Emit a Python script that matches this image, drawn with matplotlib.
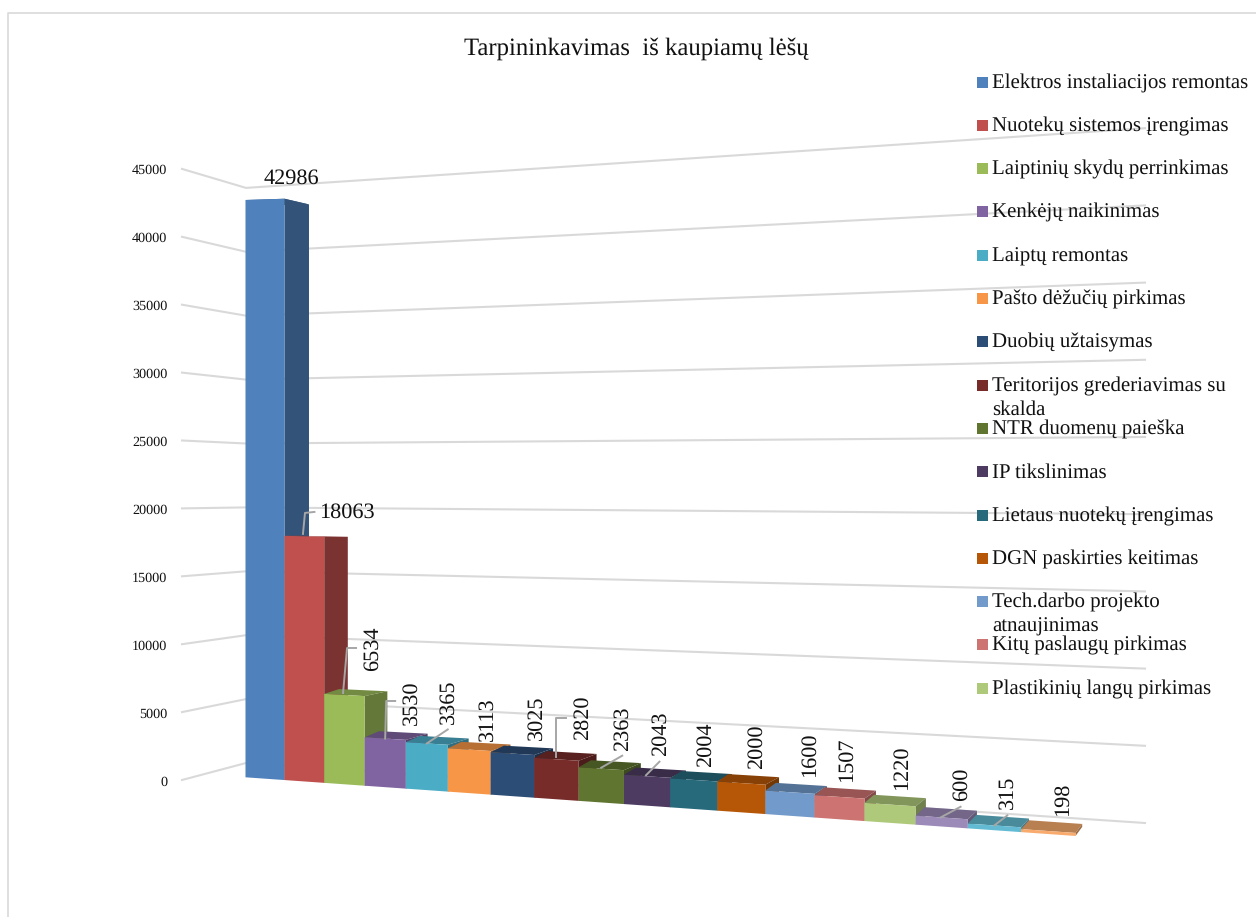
import matplotlib
matplotlib.use("Agg")
import matplotlib.pyplot as plt

plt.rcParams['font.family'] = ['Liberation Serif', 'DejaVu Serif']
plt.rcParams['text.hinting'] = 'none'

title = "Tarpininkavimas  iš kaupiamų lėšų"
values = [42986, 18063, 6534, 3530, 3365, 3113, 3025, 2820, 2363,
          2043, 2004, 2000, 1600, 1507, 1220, 600, 315, 198]
names = ["Elektros instaliacijos remontas", "Nuotekų sistemos įrengimas",
         "Laiptinių skydų perrinkimas", "Kenkėjų naikinimas", "Laiptų remontas",
         "Pašto dėžučių pirkimas", "Duobių užtaisymas",
         "Teritorijos grederiavimas su\nskalda", "NTR duomenų paieška",
         "IP tikslinimas", "Lietaus nuotekų įrengimas", "DGN paskirties keitimas",
         "Tech.darbo projekto\natnaujinimas", "Kitų paslaugų pirkimas",
         "Plastikinių langų pirkimas"]
colors = ["#4F81BD", "#C0504D", "#9BBB59", "#8064A2", "#4BACC6", "#F79646",
          "#2C4D75", "#772C2A", "#5F7530", "#4D3B62", "#276A7C", "#B65708",
          "#729ACA", "#CD7371", "#AFC97A", "#9C8AB8", "#62BBD2", "#F9AB6E"]
ticks = [0, 5000, 10000, 15000, 20000, 25000, 30000, 35000, 40000, 45000]

# label offset from the middle of each bar's top edge, pixels
label_off = [(26.6, -21), (42.7, -23.4), (27.7, -46), (25.8, -35.6), (21.2, -41.4), (17.9, -30.6),
             (23.7, -35.6), (25.7, -41.3), (21.8, -39.7), (13.6, -42.3), (11.8, -34.9), (15.7, -36.2),
             (19.7, -37.2), (7.6, -36.9), (11.5, -36.6), (19.5, -33.4), (12.8, -33.4), (14.8, -32)]
leaders = {1: [(-1.3, -2.4), (0.7, -23.4), (10.2, -24.4)], 2: [(-1.3, -2), (2.7, -47), (11.7, -47)],
           3: [(0, 0), (1, -37.6), (10, -37.6)], 4: [(0, 0), (21, -14)],
           7: [(0, -2), (0, -41), (10, -41)], 8: [(0, -1), (21, -13)],
           9: [(-1, -1), (12.5, -14.6)], 15: [(-1, 0), (19, -10.7)], 16: [(0, 0), (13, -10)]}


# the picture is a 3D chart seen in perspective, these map data to pixels
def bar_x(t):
    return 245.5 + 38.65 * t / (1 - 0.00899 * t)


def front(t, v):
    x = bar_x(t)
    base = 777.3 + (x - 245.5) * 0.0707
    scale = 0.01343 + (x - 245.5) * 2.4e-6
    return x, base - v * scale


def depth_y(y):
    if y > 534:
        return (534 - y) * 0.03
    return (534 - y) * 0.017


def back_right(t, v):
    x, y = front(t, v)
    return x + 24.5 - (x - 284) * 0.0225, y + depth_y(y)


def back_left(t, v):
    x, y = front(t, v)
    return x + 14.5 - (x - 364) * 0.01, y + depth_y(y)


def shade(col, f):
    r, g, b = matplotlib.colors.to_rgb(col)
    return (r * f, g * f, b * f)


fig = plt.figure(figsize=(12.56, 9.17), dpi=100)
ax = fig.add_axes([0, 0, 1, 1])
ax.set_xlim(0, 1256)
ax.set_ylim(917, 0)
ax.axis("off")

# outer frame of the chart
ax.plot([8, 8, 1256], [917, 13, 13], color="#d9d9d9", lw=1.2)

ax.text(636, 49, title, fontsize=17.8, ha="center", va="center", color="#111111")

# walls and grid
for v in ticks:
    y_left = 780 - v * 0.01358
    y_corner = 763 - v * 0.01278
    y_right = 823 - v * 0.01544
    ax.plot([182, 246, 1145], [y_left, y_corner, y_right], color="#d9d9d9", lw=1.5, zorder=1)
    ax.text(167.5, y_left + 2, str(v), fontsize=10.2, ha="right", va="center", color="#111111")

# bars, left to right so the nearer ones cover the others
for i, v in enumerate(values):
    c = colors[i]
    top = [front(i, v), front(i + 1, v), back_right(i + 1, v), back_left(i, v)]
    side = [front(i + 1, v), back_right(i + 1, v), back_right(i + 1, 0), front(i + 1, 0)]
    face = [front(i, 0), front(i + 1, 0), front(i + 1, v), front(i, v)]
    ax.fill(*zip(*top), color=shade(c, 0.74), lw=0, zorder=2 + i)
    ax.fill(*zip(*side), color=shade(c, 0.64), lw=0, zorder=2 + i)
    ax.fill(*zip(*face), color=c, lw=0, zorder=2 + i)

# value labels and leader lines
for i, v in enumerate(values):
    xc, yc = front(i + 0.5, v)
    dx, dy = label_off[i]
    ax.text(xc + dx, yc + dy, str(v), fontsize=16, ha="center", va="center", color="#111111",
            rotation=0 if i < 2 else 90, zorder=40)
    if i in leaders:
        ax.plot([xc + p[0] for p in leaders[i]], [yc + p[1] for p in leaders[i]],
                color="#a6a6a6", lw=1.4, zorder=39)

# legend
for i, name in enumerate(names):
    y = 82 + 43.3 * i
    ax.fill([977, 988, 988, 977], [y - 5.5, y - 5.5, y + 5.5, y + 5.5], color=colors[i], lw=0, zorder=50)
    for k, line in enumerate(name.split("\n")):
        ax.text(992, y + 1 + k * 23.5, line, fontsize=15, ha="left", va="center", color="#111111", zorder=50)

fig.savefig("out.png", dpi=100)
